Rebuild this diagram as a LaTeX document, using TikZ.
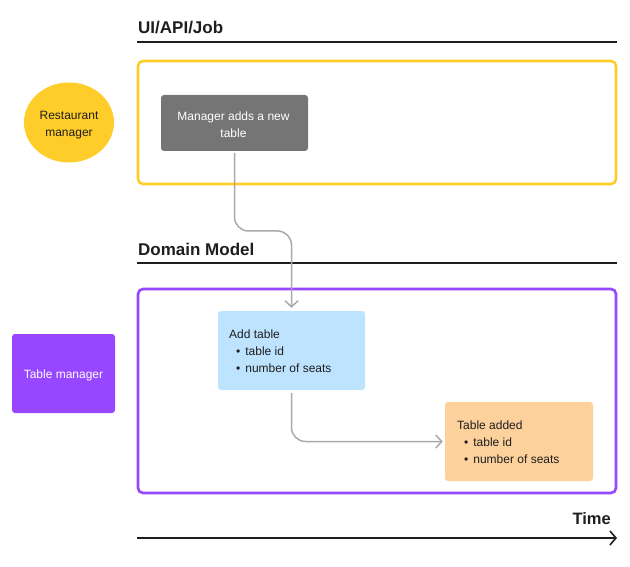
\documentclass[tikz,border=0pt]{standalone}
\usepackage{fontspec}
\setmainfont{Liberation Sans}
\usetikzlibrary{arrows.meta,shapes.geometric}
\definecolor{fyellow}{HTML}{FFCD29}
\definecolor{fpurple}{HTML}{9747FF}
\definecolor{fblue}{HTML}{BDE3FF}
\definecolor{forange}{HTML}{FCD19C}
\definecolor{fgray}{HTML}{757575}
\definecolor{fline}{HTML}{AAAAAA}
\definecolor{ftext}{HTML}{1E1E1E}
\tikzset{
  x=1pt, y=-1pt,
  heading/.style={anchor=west, font=\bfseries\fontsize{17}{20}\selectfont, text=ftext, inner sep=0pt},
  headline/.style={line width=1.6pt, draw=ftext},
  lane/.style={draw, line width=2.6pt, rounded corners=5pt},
  small/.style={font=\fontsize{12}{17}\selectfont},
  box/.style={rounded corners=3pt, small, inner sep=0pt},
  conn/.style={draw=fline, line width=1.5pt, rounded corners=14pt, -{Straight Barb[length=6pt,width=13pt]}},
}
\newcommand{\bul}{\hspace*{7pt}\textbullet\hspace{5pt}}
\begin{document}
\begin{tikzpicture}
\useasboundingbox (0,0) rectangle (630,567);
% headings
\node[heading] (h1) at (138,28) {UI/API/Job};
\draw[headline] (137,42) coordinate (h1a) -- (617,42) coordinate (h1b);
\node[heading] (h2) at (138,249) {Domain Model};
\draw[headline] (137,263) coordinate (h2a) -- (617,263) coordinate (h2b);
% lanes
\draw[lane, draw=fyellow] (138,61) rectangle (616,184);
\draw[lane, draw=fpurple] (138,289) rectangle (616,493);
% actors
\node[ellipse, fill=fyellow, minimum width=90pt, minimum height=80pt, inner sep=0pt] (rm) at (69,122.5) {};
\node[small, text=ftext, align=center, inner sep=0pt] (rmt) at (69,125) {Restaurant\\manager};
\node[box, fill=fpurple, minimum width=103pt, minimum height=79pt] (tm) at (63.5,373.5) {};
\node[small, text=white, inner sep=0pt] (tmt) at (63.5,375) {Table manager};
% command boxes
\node[box, fill=fgray, minimum width=147pt, minimum height=56pt] (gray) at (234.5,123) {};
\node[small, text=white, align=center, inner sep=0pt] (grayt) at (233.5,125) {Manager adds a new\\table};
\node[box, fill=fblue, minimum width=147pt, minimum height=79pt] (blue) at (291.5,350.5) {};
\node[anchor=north west, inner sep=0pt, small, text=ftext, align=left] (bluet) at (229,329.5) {Add table\\\bul table id\\\bul number of seats};
\node[box, fill=forange, minimum width=148pt, minimum height=79pt] (orange) at (519,441.5) {};
\node[anchor=north west, inner sep=0pt, small, text=ftext, align=left] (oranget) at (457,420.5) {Table added\\\bul table id\\\bul number of seats};
% connectors
\coordinate (bend1) at (263,231);
\draw[conn, shorten <=2pt, shorten >=3pt] (gray.south) |- (bend1) -| (blue.north);
\draw[conn, shorten <=3pt, shorten >=2pt] (blue.south) |- (orange.west);
% time
\node[anchor=east, inner sep=0pt, font=\bfseries\fontsize{16.5}{20}\selectfont, text=ftext] (time) at (611,519) {Time};
\coordinate (t0) at (137,538);
\coordinate (t1) at (617,538);
\draw[line width=1.6pt, draw=ftext, -{Straight Barb[length=6pt,width=14pt]}] (t0) -- (t1);
\end{tikzpicture}
\end{document}
